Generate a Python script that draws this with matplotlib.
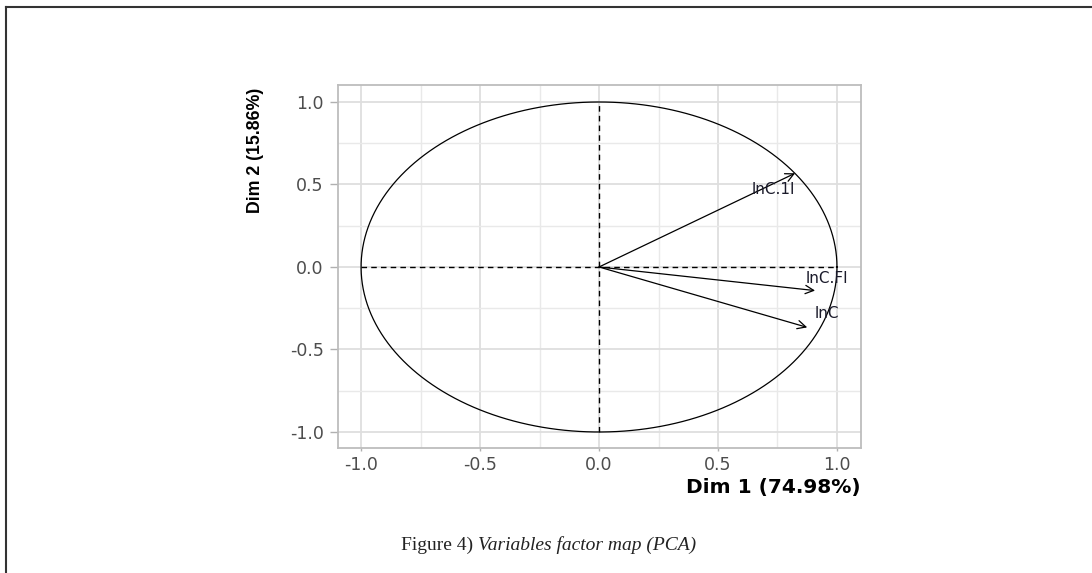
import numpy as np
import matplotlib.pyplot as plt
from matplotlib.ticker import MultipleLocator

# variable coordinates on Dim 1 / Dim 2
var_names = ["lnC.1I", "lnC.FI", "lnC"]
dim1 = [0.824, 0.908, 0.875]
dim2 = [0.568, -0.143, -0.366]
label_x = [0.731, 0.956, 0.958]
label_y = [0.467, -0.067, -0.279]

ticks = [-1.0, -0.5, 0.0, 0.5, 1.0]
tick_labels = ["-1.0", "-0.5", "0.0", "0.5", "1.0"]

W, H = 1092, 573
fig = plt.figure(figsize=(W / 100, H / 100), dpi=100)
ax = fig.add_axes([338 / W, 1 - 448 / H, (861 - 338) / W, (448 - 85) / H])

# grid like ggplot theme_light
ax.set_axisbelow(True)
ax.xaxis.set_minor_locator(MultipleLocator(0.25))
ax.yaxis.set_minor_locator(MultipleLocator(0.25))
ax.grid(True, which="major", color="#dedede", linewidth=1.3)
ax.grid(True, which="minor", color="#e9e9e9", linewidth=1.0)
ax.tick_params(which="minor", length=0)

# correlation circle
theta = np.linspace(0, 2 * np.pi, 400)
ax.plot(np.cos(theta), np.sin(theta), color="black", linewidth=0.9)
ax.plot([-1, 1], [0, 0], color="black", linestyle=(0, (4, 3)), linewidth=1.0)
ax.plot([0, 0], [-1, 1], color="black", linestyle=(0, (4, 3)), linewidth=1.0)

for name, x, y, lx, ly in zip(var_names, dim1, dim2, label_x, label_y):
    ax.annotate("", xy=(x, y), xytext=(0, 0),
                arrowprops=dict(arrowstyle="->", color="black", lw=0.9,
                                mutation_scale=15, shrinkA=0, shrinkB=0))
    ax.text(lx, ly, name, ha="center", va="center", fontsize=11,
            color="#1a1a2a", family="DejaVu Sans")

ax.set_xlim(-1.097, 1.101)
ax.set_ylim(-1.097, 1.103)
ax.set_xticks(ticks)
ax.set_xticklabels(tick_labels)
ax.set_yticks(ticks)
ax.set_yticklabels(tick_labels)
ax.tick_params(which="major", width=1, color="#b0b0b0",
               labelcolor="#4d4d4d", labelsize=12.5)
ax.tick_params(axis="x", which="major", length=2.5, pad=3.5)
ax.tick_params(axis="y", which="major", length=5.8, pad=4.5)
for lab in ax.get_xticklabels() + ax.get_yticklabels():
    lab.set_family("DejaVu Sans")

for s in ax.spines.values():
    s.set_color("#bdbdbd")
    s.set_linewidth(1.3)

# axis titles
fig.text(861 / W, 1 - 487 / H, "Dim 1 (74.98%)", fontsize=14.5, fontweight="bold",
         family="DejaVu Sans", ha="right", va="center")
fig.text(255 / W, 1 - 88 / H, "Dim 2 (15.86%)", fontsize=12.8, fontweight="bold",
         family="Liberation Sans", rotation=90, ha="center", va="top")

# page frame (top and left edges visible)
fig.add_artist(plt.Line2D([0.0055, 1.0], [1 - 7 / H, 1 - 7 / H],
                          transform=fig.transFigure, color="#333333", linewidth=1.5))
fig.add_artist(plt.Line2D([0.0055, 0.0055], [0.0, 1 - 7 / H],
                          transform=fig.transFigure, color="#333333", linewidth=1.5))

# caption
cap1 = fig.text(401 / W, 1 - 545 / H, "Figure 4) ", fontsize=14,
                family="Liberation Serif", ha="left", va="center", color="#222222")
fig.canvas.draw()
bb = cap1.get_window_extent()
fig.text(bb.x1 / W, 1 - 545 / H, "Variables factor map (PCA)", fontsize=14,
         family="Liberation Serif", style="italic", ha="left", va="center", color="#222222")

fig.savefig("out.png", dpi=100)
